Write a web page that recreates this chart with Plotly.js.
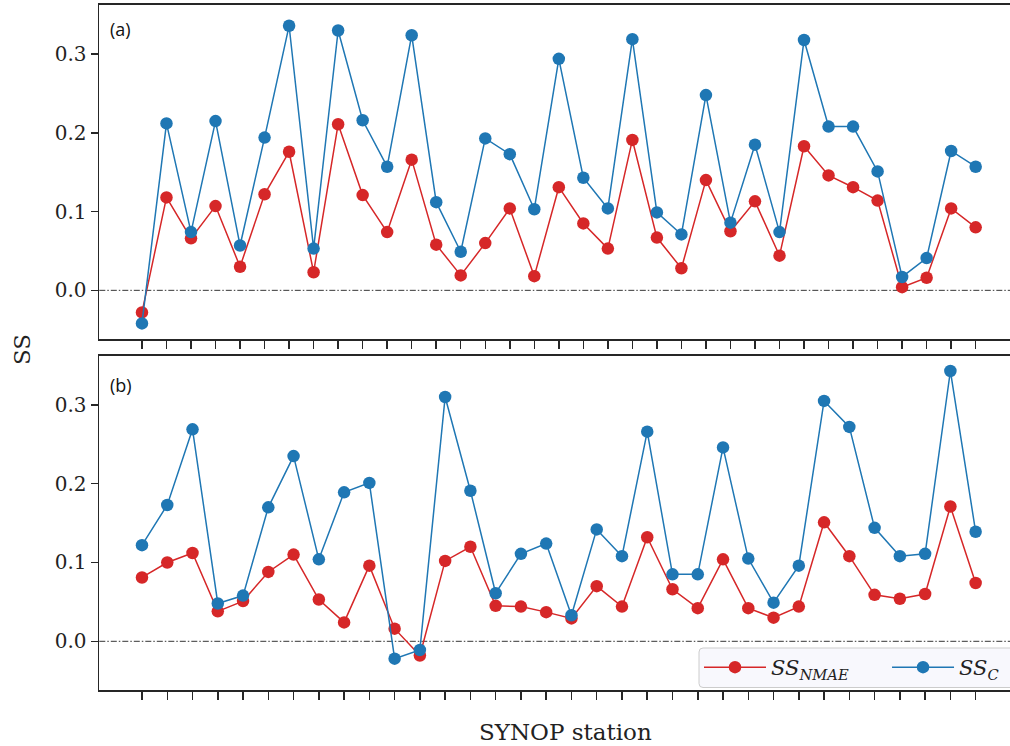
<!DOCTYPE html>
<html>
<head>
<meta charset="utf-8">
<script src="https://cdn.plot.ly/plotly-3.0.1.min.js"></script>
<style>html,body{margin:0;padding:0;background:#fff;}#chart{width:1010px;height:746px;}</style>
</head>
<body>
<div id="chart"></div>
<script>
// Panel (a): 35 stations
const stationsA = [1,2,3,4,5,6,7,8,9,10,11,12,13,14,15,16,17,18,19,20,21,22,23,24,25,26,27,28,29,30,31,32,33,34,35];
const ssNmaeA = [-0.028,0.118,0.066,0.107,0.030,0.122,0.176,0.023,0.211,0.121,0.074,0.166,0.058,0.019,0.060,0.104,
  0.018,0.131,0.085,0.053,0.191,0.067,0.028,0.140,0.075,0.113,0.044,0.183,0.146,0.131,0.114,0.004,0.016,0.104,0.080];
const ssCA = [-0.042,0.212,0.074,0.215,0.057,0.194,0.336,0.053,0.330,0.216,0.157,0.324,0.112,0.049,0.193,0.173,
  0.103,0.294,0.143,0.104,0.319,0.099,0.071,0.248,0.086,0.185,0.074,0.318,0.208,0.208,0.151,0.017,0.041,0.177,0.157];

// Panel (b): 34 stations
const stationsB = [1,2,3,4,5,6,7,8,9,10,11,12,13,14,15,16,17,18,19,20,21,22,23,24,25,26,27,28,29,30,31,32,33,34];
const ssNmaeB = [0.081,0.100,0.112,0.038,0.051,0.088,0.110,0.053,0.024,0.096,0.016,-0.018,0.102,0.120,0.045,
  0.044,0.037,0.029,0.070,0.044,0.132,0.066,0.042,0.104,0.042,0.030,0.044,0.151,0.108,0.059,0.054,0.060,0.171,0.074];
const ssCB = [0.122,0.173,0.269,0.048,0.058,0.170,0.235,0.104,0.189,0.201,-0.022,-0.011,0.310,0.191,0.061,
  0.111,0.124,0.033,0.142,0.108,0.266,0.085,0.085,0.246,0.105,0.049,0.096,0.305,0.272,0.144,0.108,0.111,0.343,0.139];

const yTicks = [0, 0.1, 0.2, 0.3];
const yTickText = ['0.0', '0.1', '0.2', '0.3'];
const PAD = '\u00A0'.repeat(5);
const seriesNames = ['<i>SS</i><sub><i>NMAE</i></sub>' + PAD, '<i>SS</i><sub><i>C</i></sub>'];

const RED = '#d62728', BLUE = '#1f77b4', AX = '#262626';
const W = 1010, H = 746;
const SERIF = '"DejaVu Serif", "Liberation Serif", serif';

function tr(x, y, xa, ya, color, name, showleg) {
  return {x: x, y: y, xaxis: xa, yaxis: ya, type: 'scatter', mode: 'lines+markers', name: name,
    showlegend: showleg, legendgroup: name,
    line: {color: color, width: 1.5}, marker: {color: color, size: 12.5, line: {width: 0}}};
}

const data = [
  tr(stationsA, ssNmaeA, 'x', 'y', RED, seriesNames[0], false),
  tr(stationsA, ssCA, 'x', 'y', BLUE, seriesNames[1], false),
  tr(stationsB, ssNmaeB, 'x2', 'y2', RED, seriesNames[0], true),
  tr(stationsB, ssCB, 'x2', 'y2', BLUE, seriesNames[1], true)
];

const tickFont = {family: SERIF, size: 20, color: '#222'};
function xax(vals, range, anchor) {
  return {domain: [99.3 / W, 1], range: range, anchor: anchor, tickmode: 'array', tickvals: vals,
    showticklabels: false, ticks: 'outside', ticklen: 8, tickwidth: 1.5, tickcolor: AX,
    showline: true, linecolor: AX, linewidth: 1.8, mirror: true, showgrid: false, zeroline: false};
}
function yax(dom, anchor) {
  return {domain: dom, range: [-0.0618, 0.3624], anchor: anchor, tickmode: 'array', tickvals: yTicks,
    ticktext: yTickText, ticks: 'outside', ticklen: 7, tickwidth: 1.5, tickcolor: AX, tickfont: tickFont,
    showline: true, linecolor: AX, linewidth: 1.8, mirror: false, showgrid: false, zeroline: false};
}

// legend frame (extends past the right edge, as in the reference)
const bx0 = 699, bx1 = 1020, by0 = 648, by1 = 687.5, r = 4;
const px = v => v / W, py = v => 1 - v / H;
const framePath = `M ${px(bx0 + r)} ${py(by0)} L ${px(bx1)} ${py(by0)} L ${px(bx1)} ${py(by1)} L ${px(bx0 + r)} ${py(by1)} ` +
  `Q ${px(bx0)} ${py(by1)} ${px(bx0)} ${py(by1 - r)} L ${px(bx0)} ${py(by0 + r)} Q ${px(bx0)} ${py(by0)} ${px(bx0 + r)} ${py(by0)} Z`;

const layout = {
  width: W, height: H,
  margin: {l: 0, r: 0, t: 0, b: 0},
  paper_bgcolor: '#fff', plot_bgcolor: '#fff',
  showlegend: true,
  xaxis: xax(stationsA, [-0.74, 36.4], 'y'),
  yaxis: yax([1 - 339 / H, 1 - 5 / H], 'x'),
  xaxis2: xax(stationsB, [-0.69, 35.36], 'y2'),
  yaxis2: yax([1 - 690 / H, 1 - 355.7 / H], 'x2'),
  legend: {orientation: 'h', x: 699 / W, xanchor: 'left', y: 1 - 667.5 / H, yanchor: 'middle',
    bgcolor: 'rgba(0,0,0,0)', borderwidth: 0,
    font: {family: SERIF, size: 21, color: '#222'},
    itemwidth: 62, tracegroupgap: 0},
  shapes: [
    {type: 'line', xref: 'x domain', yref: 'y', x0: 0, x1: 1, y0: 0, y1: 0,
      line: {color: '#000', width: 0.8, dash: '6px,2px,1.5px,2px'}, layer: 'below'},
    {type: 'line', xref: 'x2 domain', yref: 'y2', x0: 0, x1: 1, y0: 0, y1: 0,
      line: {color: '#000', width: 0.8, dash: '6px,2px,1.5px,2px'}, layer: 'below'},
    {type: 'path', xref: 'paper', yref: 'paper', path: framePath, layer: 'above',
      fillcolor: 'rgba(248,248,253,0.95)', line: {color: '#cccccc', width: 1}}
  ],
  annotations: [
    {text: '(a)', xref: 'paper', yref: 'paper', x: 108 / W, y: 1 - 29 / H, xanchor: 'left', yanchor: 'middle',
      showarrow: false, font: {family: '"Open Sans", "DejaVu Sans", sans-serif', size: 18, color: '#111'}},
    {text: '(b)', xref: 'paper', yref: 'paper', x: 108 / W, y: 1 - 385 / H, xanchor: 'left', yanchor: 'middle',
      showarrow: false, font: {family: '"Open Sans", "DejaVu Sans", sans-serif', size: 18, color: '#111'}},
    {text: 'SS', xref: 'paper', yref: 'paper', x: 22 / W, y: 1 - 350 / H, xanchor: 'center', yanchor: 'middle',
      textangle: -90, showarrow: false, font: {family: SERIF, size: 23, color: '#222'}},
    {text: 'SYNOP station', xref: 'paper', yref: 'paper', x: 565 / W, y: 1 - 732 / H, xanchor: 'center', yanchor: 'middle',
      showarrow: false, font: {family: SERIF, size: 23, color: '#222'}}
  ]
};

Plotly.newPlot('chart', data, layout, {displayModeBar: false, staticPlot: true});
</script>
</body>
</html>
